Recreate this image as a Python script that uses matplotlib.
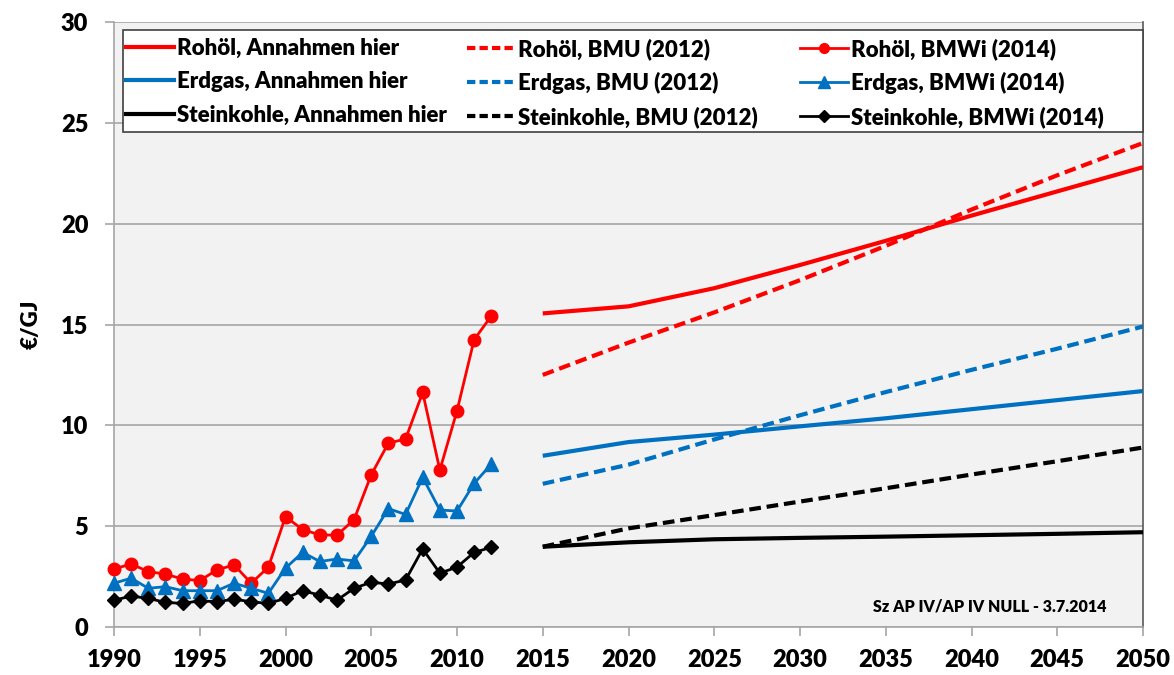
"""Energy price paths (Rohöl, Erdgas, Steinkohle) in EUR/GJ: historic BMWi data
1990-2012 plus assumed price paths and BMU (2012) paths 2015-2050."""
import matplotlib.pyplot as plt
from matplotlib.lines import Line2D
from matplotlib.patches import Rectangle

hist_years = list(range(1990, 2013))
oil_bmwi = [2.88, 3.12, 2.75, 2.62, 2.38, 2.3, 2.83, 3.08, 2.17, 2.97, 5.47, 4.83, 4.57, 4.55,
            5.33, 7.55, 9.12, 9.32, 11.63, 7.78, 10.72, 14.25, 15.42]
gas_bmwi = [2.17, 2.42, 1.92, 2.0, 1.8, 1.8, 1.8, 2.17, 1.92, 1.67, 2.92, 3.7, 3.25, 3.37,
            3.28, 4.5, 5.87, 5.58, 7.42, 5.8, 5.75, 7.12, 8.08]
coal_bmwi = [1.33, 1.53, 1.42, 1.22, 1.17, 1.3, 1.25, 1.38, 1.25, 1.17, 1.42, 1.8, 1.58, 1.33,
             1.92, 2.22, 2.13, 2.33, 3.87, 2.67, 2.97, 3.7, 3.95]

proj_years = [2015, 2020, 2025, 2030, 2035, 2040, 2045, 2050]
oil_here = [15.55, 15.9, 16.8, 17.95, 19.15, 20.4, 21.6, 22.8]
oil_bmu = [12.5, 14.1, 15.6, 17.2, 18.9, 20.7, 22.4, 24.0]
gas_here = [8.49, 9.17, 9.54, 9.95, 10.35, 10.8, 11.25, 11.7]
gas_bmu = [7.1, 8.05, 9.3, 10.5, 11.65, 12.75, 13.8, 14.9]
coal_here = [3.98, 4.2, 4.35, 4.42, 4.48, 4.55, 4.62, 4.7]
coal_bmu = [3.98, 4.89, 5.55, 6.22, 6.88, 7.56, 8.22, 8.9]

x_ticks = list(range(1990, 2051, 5))
y_ticks = [0, 5, 10, 15, 20, 25, 30]

RED = "#ff0000"
BLUE = "#0070c0"
BLACK = "#000000"
FONT = ["Lato", "DejaVu Sans"]
WEIGHT = "heavy"
DASH = (2.8, 1.4)
W, H = 1174, 675

plt.rcParams["font.family"] = FONT

fig = plt.figure(figsize=(W / 100, H / 100), dpi=100)
ax = fig.add_axes([114 / W, 1 - 627 / H, (1143 - 114) / W, (627 - 22) / H])
ax.set_facecolor("#f2f2f2")

# projections
ax.plot(proj_years, oil_here, color=RED, lw=3, solid_capstyle="butt", zorder=3)
ax.plot(proj_years, oil_bmu, color=RED, lw=3, dashes=DASH, zorder=3)
ax.plot(proj_years, gas_here, color=BLUE, lw=3, solid_capstyle="butt", zorder=3)
ax.plot(proj_years, gas_bmu, color=BLUE, lw=3, dashes=DASH, zorder=3)
ax.plot(proj_years, coal_here, color=BLACK, lw=3, solid_capstyle="butt", zorder=3)
ax.plot(proj_years, coal_bmu, color=BLACK, lw=3, dashes=DASH, zorder=3)

# historic BMWi data
ax.plot(hist_years, oil_bmwi, color=RED, lw=2, marker="o", ms=9, clip_on=False, zorder=4)
ax.plot(hist_years, gas_bmwi, color=BLUE, lw=2, marker="^", ms=10, clip_on=False, zorder=4)
ax.plot(hist_years, coal_bmwi, color=BLACK, lw=2, marker="D", ms=7, clip_on=False, zorder=4)

ax.set_xlim(1990, 2050)
ax.set_ylim(0, 30)
ax.set_xticks(x_ticks)
ax.set_yticks(y_ticks)
ax.grid(axis="y", color="#a6a6a6", lw=1.2, zorder=1)
ax.set_axisbelow(True)
for side in ["left", "bottom", "right"]:
    ax.spines[side].set_color("#a6a6a6")
    ax.spines[side].set_linewidth(1.2)
ax.spines["right"].set_color("#595959")
ax.spines["top"].set_visible(False)
ax.tick_params(axis="both", length=6.5, width=1.2, color="#a6a6a6")
ax.tick_params(axis="x", pad=9)
ax.tick_params(axis="y", pad=12)
for lbl in ax.get_xticklabels() + ax.get_yticklabels():
    lbl.set_fontsize(17)
    lbl.set_fontweight(WEIGHT)
ax.set_ylabel("€/GJ", fontsize=16, fontweight=WEIGHT, labelpad=14)

ax.text(2047.9, 1.0, "Sz AP IV/AP IV NULL - 3.7.2014", ha="right", va="center",
        fontsize=11.5, fontweight=WEIGHT)

# legend: Excel-style box with three equal-width columns
legend_cols = [
    ([Line2D([], [], color=RED, lw=3),
      Line2D([], [], color=BLUE, lw=3),
      Line2D([], [], color=BLACK, lw=3)],
     ["Rohöl, Annahmen hier", "Erdgas, Annahmen hier", "Steinkohle, Annahmen hier"], 126),
    ([Line2D([], [], color=RED, lw=3, dashes=(2, 1)),
      Line2D([], [], color=BLUE, lw=3, dashes=(2, 1)),
      Line2D([], [], color=BLACK, lw=3, dashes=(2, 1))],
     ["Rohöl, BMU (2012)", "Erdgas, BMU (2012)", "Steinkohle, BMU (2012)"], 467),
    ([Line2D([], [], color=RED, lw=2, marker="o", ms=7),
      Line2D([], [], color=BLUE, lw=2, marker="^", ms=8),
      Line2D([], [], color=BLACK, lw=2, marker="D", ms=6)],
     ["Rohöl, BMWi (2014)", "Erdgas, BMWi (2014)", "Steinkohle, BMWi (2014)"], 800),
]
fig.patches.append(Rectangle((123 / W, 1 - 132 / H), (1143 - 123) / W, 102 / H,
                             transform=fig.transFigure, facecolor="white",
                             edgecolor="#404040", lw=1.2, zorder=5))
for handles, labels, x0 in legend_cols:
    leg = fig.legend(handles, labels, loc="upper left", bbox_to_anchor=(x0 / W, 1 - 38 / H),
                     prop={"weight": WEIGHT, "size": 16}, frameon=False,
                     handlelength=2.15, handletextpad=0.15,
                     labelspacing=0.55, borderpad=0, borderaxespad=0)
    leg.set_zorder(6)

fig.savefig("out.png", dpi=100)
